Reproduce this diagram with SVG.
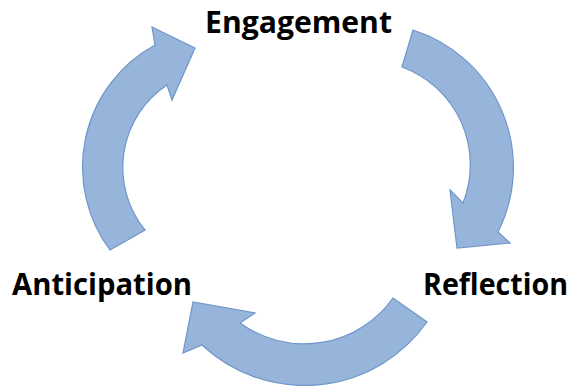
<svg xmlns="http://www.w3.org/2000/svg" width="574" height="386" viewBox="0 0 574 386">
<style>
.arrow{fill:#97B5DA;stroke:#6E96C8;stroke-width:1.2;stroke-linejoin:miter}
.lbl{font-family:"Open Sans","Liberation Sans",sans-serif;font-weight:bold;font-size:30px;fill:#000}
</style>
<rect width="574" height="386" fill="#ffffff"/>
<g id="connectors">
<path id="arrow-engagement-reflection" class="arrow" d="M413,30 A144,144 0 0 1 498,232 L510,243 L457,248 L450,190 L463,203 A104,104 0 0 0 402,67 Z"/>
<path id="arrow-reflection-anticipation" class="arrow" d="M427,322 A150,150 0 0 1 202,345 L183,353 L193,302 L255,313 L240,323 A109,109 0 0 0 393,298 Z"/>
<path id="arrow-anticipation-engagement" class="arrow" d="M110,250 A139,139 0 0 1 155,45 L152,27 L195,48 L172,100 L167,85 A99,99 0 0 0 145,230 Z"/>
</g>
<g id="engagement"><text class="lbl" x="205" y="33" textLength="187" lengthAdjust="spacingAndGlyphs">Engagement</text></g>
<g id="reflection"><text class="lbl" x="423" y="295" textLength="145" lengthAdjust="spacingAndGlyphs">Reflection</text></g>
<g id="anticipation"><text class="lbl" x="12" y="295" textLength="180" lengthAdjust="spacingAndGlyphs">Anticipation</text></g>
</svg>
